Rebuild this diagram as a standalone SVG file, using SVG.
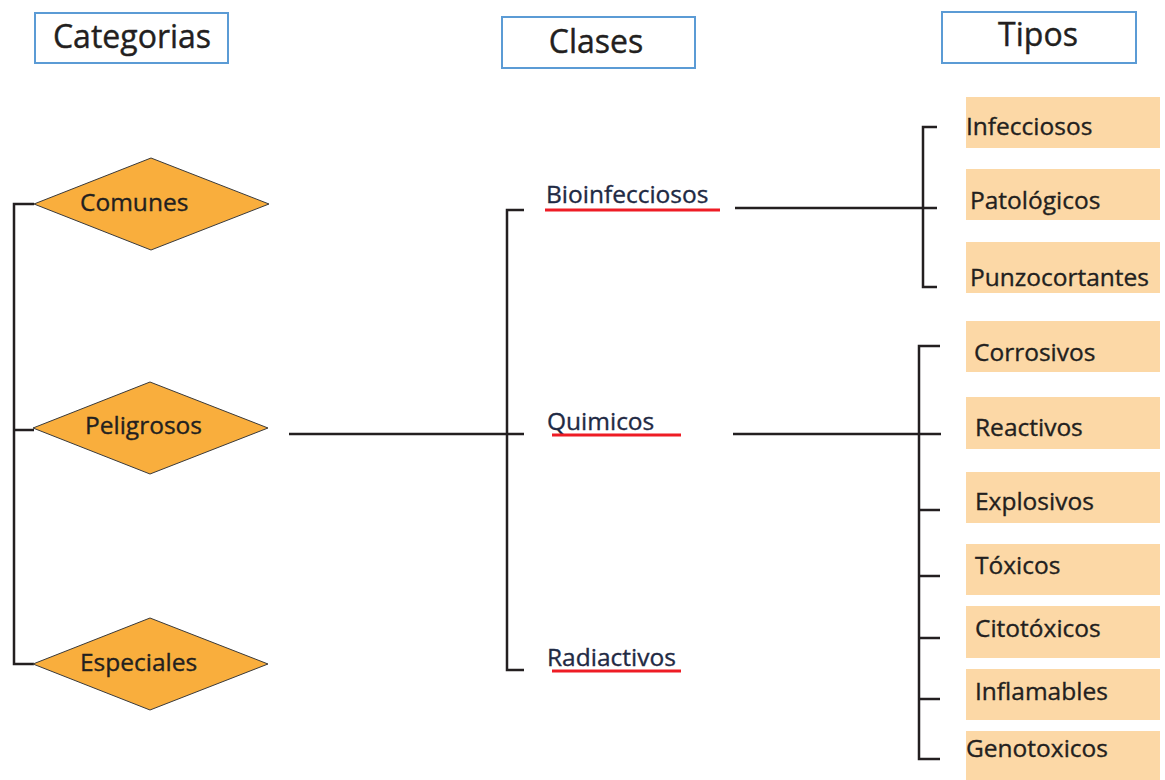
<svg xmlns="http://www.w3.org/2000/svg" width="1165" height="780" viewBox="0 0 1165 780">
  <style>
    .hdr { fill: #ffffff; stroke: #5b9bd5; stroke-width: 2; }
    .hdr-t { font-family: "Open Sans", "Noto Sans", sans-serif; font-size: 32px; fill: #231f20; stroke: #231f20; stroke-width: 0.4; text-anchor: middle; }
    .dia { fill: #f9ae3d; stroke: #3a3a3a; stroke-width: 1; }
    .lbl { font-family: "Open Sans", "Noto Sans", sans-serif; font-size: 24.5px; fill: #231f20; stroke: #231f20; stroke-width: 0.35; }
    .cls { font-family: "Open Sans", "Noto Sans", sans-serif; font-size: 24.5px; fill: #1f2a44; stroke: #1f2a44; stroke-width: 0.35; }
    .tbox { fill: #fcd8a6; }
    .ul { stroke: #ee1c25; stroke-width: 3; }
    .wire { stroke: #231f20; stroke-width: 2.5; fill: none; }
  </style>

  <!-- column headers -->
  <g id="hdr-categorias">
    <rect class="hdr" x="35" y="13" width="193" height="50"/>
    <text class="hdr-t" x="132" y="48">Categorias</text>
  </g>
  <g id="hdr-clases">
    <rect class="hdr" x="502" y="17" width="193" height="51"/>
    <text class="hdr-t" x="596" y="53">Clases</text>
  </g>
  <g id="hdr-tipos">
    <rect class="hdr" x="942" y="12" width="194" height="51"/>
    <text class="hdr-t" x="1038" y="46">Tipos</text>
  </g>

  <!-- connectors -->
  <g id="connectors">
    <!-- categories bracket -->
    <path class="wire" d="M34 204 H14 V664 H34"/>
    <path class="wire" d="M14 430 H34"/>
    <!-- Peligrosos to classes -->
    <path class="wire" d="M289 434 H524"/>
    <path class="wire" d="M524 210 H507 V670 H524"/>
    <!-- Bioinfecciosos to its types -->
    <path class="wire" d="M735 208 H937"/>
    <path class="wire" d="M937 127 H923 V287 H937"/>
    <!-- Quimicos to its types -->
    <path class="wire" d="M733 434 H941"/>
    <path class="wire" d="M940 346 H919 V759 H940"/>
    <path class="wire" d="M919 510 H940"/>
    <path class="wire" d="M919 576 H940"/>
    <path class="wire" d="M919 638 H940"/>
    <path class="wire" d="M919 699 H940"/>
  </g>

  <!-- categories -->
  <g id="cat-comunes">
    <polygon class="dia" points="34,204 151,158 269,204 151,250"/>
    <text class="lbl" x="80" y="211">Comunes</text>
  </g>
  <g id="cat-peligrosos">
    <polygon class="dia" points="33,428 150,382 268,428 150,474"/>
    <text class="lbl" x="85" y="434">Peligrosos</text>
  </g>
  <g id="cat-especiales">
    <polygon class="dia" points="33,664 150,618 268,664 150,710"/>
    <text class="lbl" x="80" y="671">Especiales</text>
  </g>

  <!-- classes -->
  <g id="cls-bio">
    <text class="cls" x="546" y="203">Bioinfecciosos</text>
    <line class="ul" x1="545" y1="210" x2="720" y2="210"/>
  </g>
  <g id="cls-quimicos">
    <text class="cls" x="547" y="430">Quimicos</text>
    <line class="ul" x1="552" y1="435" x2="681" y2="435"/>
  </g>
  <g id="cls-radiactivos">
    <text class="cls" x="547" y="666">Radiactivos</text>
    <line class="ul" x1="552" y1="671" x2="681" y2="671"/>
  </g>

  <!-- types -->
  <g id="t-infecciosos">
    <rect class="tbox" x="966" y="97" width="194" height="51"/>
    <text class="lbl" x="966" y="135">Infecciosos</text>
  </g>
  <g id="t-patologicos">
    <rect class="tbox" x="966" y="169" width="194" height="51"/>
    <text class="lbl" x="970" y="209">Patológicos</text>
  </g>
  <g id="t-punzocortantes">
    <rect class="tbox" x="966" y="242" width="194" height="51"/>
    <text class="lbl" x="970" y="286">Punzocortantes</text>
  </g>
  <g id="t-corrosivos">
    <rect class="tbox" x="966" y="321" width="194" height="51"/>
    <text class="lbl" x="974" y="361">Corrosivos</text>
  </g>
  <g id="t-reactivos">
    <rect class="tbox" x="966" y="397" width="194" height="52"/>
    <text class="lbl" x="975" y="436">Reactivos</text>
  </g>
  <g id="t-explosivos">
    <rect class="tbox" x="966" y="472" width="194" height="51"/>
    <text class="lbl" x="975" y="510">Explosivos</text>
  </g>
  <g id="t-toxicos">
    <rect class="tbox" x="966" y="544" width="194" height="51"/>
    <text class="lbl" x="975" y="574">Tóxicos</text>
  </g>
  <g id="t-citotoxicos">
    <rect class="tbox" x="966" y="606" width="194" height="52"/>
    <text class="lbl" x="975" y="637">Citotóxicos</text>
  </g>
  <g id="t-inflamables">
    <rect class="tbox" x="966" y="669" width="194" height="51"/>
    <text class="lbl" x="975" y="700">Inflamables</text>
  </g>
  <g id="t-genotoxicos">
    <rect class="tbox" x="966" y="731" width="194" height="52"/>
    <text class="lbl" x="966" y="757">Genotoxicos</text>
  </g>
</svg>
